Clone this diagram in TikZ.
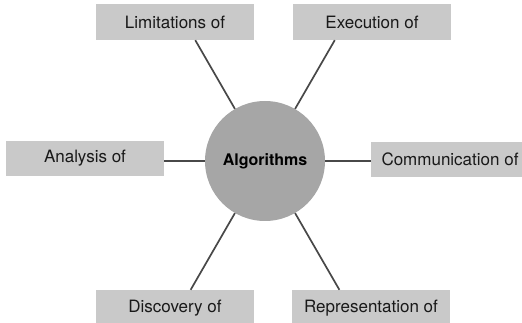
\documentclass[tikz,border=0pt]{standalone}
\usepackage{fontspec}
\setmainfont{TeX Gyre Heros}
\definecolor{BoxClr}{RGB}{201,201,201}
\definecolor{HubClr}{RGB}{166,166,166}
\definecolor{LinkClr}{RGB}{72,72,72}

\begin{document}
\begin{tikzpicture}[x=1pt,y=1pt,
  topic/.style={fill=BoxClr,minimum width=158pt,minimum height=36pt,inner sep=0pt,
    text=black!90,font=\fontsize{17}{20}\selectfont},
  hub/.style={circle,fill=HubClr,minimum size=120pt,inner sep=0pt,
    font=\bfseries\fontsize{16}{18}\selectfont},
  link/.style={line width=1.7pt,color=LinkClr}]
\useasboundingbox (0,0) rectangle (522,323);
\clip (0,0) rectangle (522,323);

\node[hub] (alg) at (265,162) {Algorithms};

\node[topic] (lim) at (175,301) {Limitations of};
\node[topic] (exe) at (372,301) {Execution of};
\node[topic,minimum height=35pt] (ana) at (85,164.5) {Analysis of};
\node[topic,minimum height=35pt] (com) at (450,163.5) {Communication of};
\node[topic] (dis) at (175,15) {Discovery of};
\node[topic] (rep) at (371,15) {Representation of};

\draw[link] (alg.120) -- (intersection of alg.center--alg.120 and lim.south west--lim.south east);
\draw[link] (alg.60) -- (intersection of alg.center--alg.60 and exe.south west--exe.south east);
\draw[link] (alg.240) -- (intersection of alg.center--alg.240 and dis.north west--dis.north east);
\draw[link] (alg.300) -- (intersection of alg.center--alg.300 and rep.north west--rep.north east);
\draw[link] (alg.west) -- (alg.west -| ana.east);
\draw[link] (alg.east) -- (alg.east -| com.west);

\end{tikzpicture}
\end{document}
